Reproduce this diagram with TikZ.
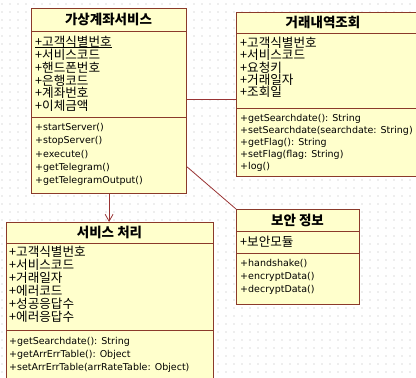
\documentclass[tikz,border=0pt]{standalone}
\usepackage{fontspec}
\setmainfont{DejaVu Sans}
\newfontfamily\kr{Noto Sans CJK KR}
\usetikzlibrary{arrows.meta}
\definecolor{boxfill}{HTML}{FFFFCC}
\definecolor{boxline}{HTML}{8B3A2A}
\definecolor{connc}{HTML}{993333}
\definecolor{dotc}{HTML}{DDDDDD}
\tikzset{
  umlbox/.style={draw=boxline, fill=boxfill, line width=1.2pt, inner sep=0pt, anchor=north west},
  sepline/.style={draw=boxline, line width=0.8pt},
  ttl/.style={font=\kr\bfseries\fontsize{13.5}{13.5}\selectfont, inner sep=0pt},
  attr/.style={font=\kr\fontsize{12.6}{13}\selectfont, anchor=west, inner sep=0pt},
  meth/.style={font=\fontsize{9.5}{11}\selectfont, anchor=west, inner sep=0pt},
  connline/.style={draw=connc, line width=0.8pt},
}
\begin{document}
\begin{tikzpicture}[x=1pt,y=-1pt]
\useasboundingbox (0,0) rectangle (416,378);
\fill[white] (0,0) rectangle (416,378);
% dotted grid
\foreach \i in {0,...,52}{
  \foreach \j in {0,...,47}{
    \fill[dotc] (\i*8+2,\j*8+4) circle (0.8);
  }
}
\begin{scope}
\clip (0,0) rectangle (416,378);
% Box 1
\node[umlbox, minimum width=155pt, minimum height=185pt] (b1) at (31,8) {};
\draw[sepline] (31,31) -- (186,31);
\draw[sepline] (31,117) -- (186,117);
\node[ttl] (b1t) at (108.5,19.5) {가상계좌서비스};
\node[attr] (b1a1) at (35,41.5) {+고객식별번호};
\draw[line width=0.7pt] ([yshift=-1.2pt]b1a1.base west) -- ([yshift=-1.2pt]b1a1.base east);
\node[attr] (b1a2) at (35,54.8) {+서비스코드};
\node[attr] (b1a3) at (35,67.6) {+핸드폰번호};
\node[attr] (b1a4) at (35,80.4) {+은행코드};
\node[attr] (b1a5) at (35,93.2) {+계좌번호};
\node[attr] (b1a6) at (35,106) {+이체금액};
\node[meth] (b1m1) at (35,128) {+startServer()};
\node[meth] (b1m2) at (35,141.3) {+stopServer()};
\node[meth] (b1m3) at (35,154.6) {+execute()};
\node[meth] (b1m4) at (35,167.9) {+getTelegram()};
\node[meth] (b1m5) at (35,181.2) {+getTelegramOutput()};
% Box 2
\node[umlbox, minimum width=190pt, minimum height=164pt] (b2) at (236,12) {};
\draw[sepline] (236,33) -- (426,33);
\draw[sepline] (236,108) -- (426,108);
\node[ttl] (b2t) at (323,22.5) {거래내역조회};
\node[attr] (b2a1) at (240,43) {+고객식별번호};
\node[attr] (b2a2) at (240,55.2) {+서비스코드};
\node[attr] (b2a3) at (240,67.4) {+요청키};
\node[attr] (b2a4) at (240,79.6) {+거래일자};
\node[attr] (b2a5) at (240,91.8) {+조회일};
\node[meth] (b2m1) at (240,119) {+getSearchdate(): String};
\node[meth] (b2m2) at (240,131) {+setSearchdate(searchdate: String)};
\node[meth] (b2m3) at (240,143) {+getFlag(): String};
\node[meth] (b2m4) at (240,155) {+setFlag(flag: String)};
\node[meth] (b2m5) at (240,167) {+log()};
% Box 3
\node[umlbox, minimum width=207pt, minimum height=170pt] (b3) at (6,222) {};
\draw[sepline] (6,243) -- (213,243);
\draw[sepline] (6,330) -- (213,330);
\node[ttl] (b3t) at (109.5,232.5) {서비스 처리};
\node[attr] (b3a1) at (9,252) {+고객식별번호};
\node[attr] (b3a2) at (9,265) {+서비스코드};
\node[attr] (b3a3) at (9,278) {+거래일자};
\node[attr] (b3a4) at (9,291) {+에러코드};
\node[attr] (b3a5) at (9,304) {+성공응답수};
\node[attr] (b3a6) at (9,317) {+에러응답수};
\node[meth] (b3m1) at (9,342) {+getSearchdate(): String};
\node[meth] (b3m2) at (9,355) {+getArrErrTable(): Object};
\node[meth] (b3m3) at (9,368) {+setArrErrTable(arrRateTable: Object)};
% Box 4
\node[umlbox, minimum width=123pt, minimum height=95pt] (b4) at (236,209) {};
\draw[sepline] (236,231) -- (359,231);
\draw[sepline] (236,253) -- (359,253);
\node[ttl] (b4t) at (297.5,220) {보안 정보};
\node[attr] (b4a1) at (240,242) {+보안모듈};
\node[meth] (b4m1) at (240,264) {+handshake()};
\node[meth] (b4m2) at (240,277) {+encryptData()};
\node[meth] (b4m3) at (240,290) {+decryptData()};
\end{scope}
% connectors
\draw[connline] (b1.east |- 0,99) -- (b2.west |- 0,99);
\draw[connline, -{Straight Barb[length=7pt,width=8pt,line width=0.8pt]}] (b1.south) -- (b1.south |- b3.north);
\draw[connline] (b1.east |- 0,167) -- (b4.north west);
\end{tikzpicture}
\end{document}
